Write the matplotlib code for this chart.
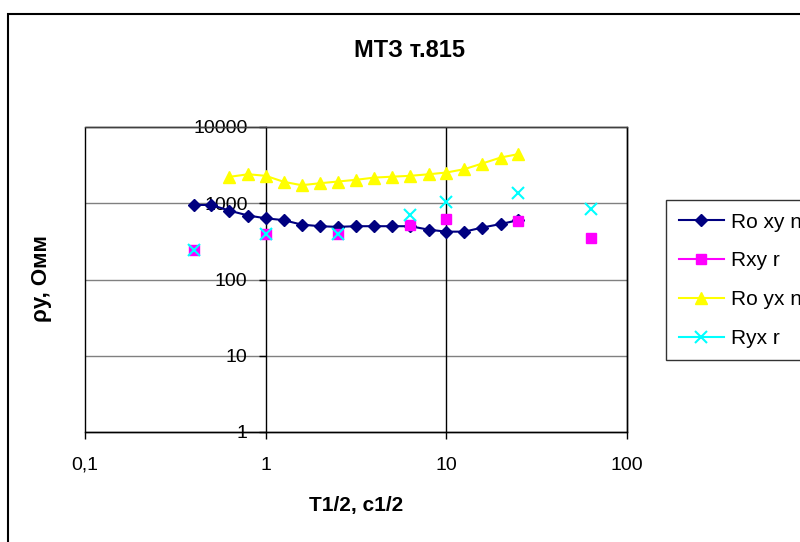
import matplotlib
matplotlib.use("Agg")
import matplotlib.pyplot as plt
from matplotlib.lines import Line2D
from matplotlib.patches import Rectangle

plt.rcParams['font.family'] = ['Liberation Sans', 'DejaVu Sans']

# data
t_xy = [0.4, 0.5, 0.63, 0.8, 1.0, 1.26, 1.58, 2.0, 2.5, 3.16, 4.0, 5.0, 6.3, 8.0, 10.0, 12.6, 15.8, 20.0, 25.0]
ro_xy = [950, 950, 800, 690, 635, 600, 525, 500, 490, 500, 500, 500, 500, 450, 424, 424, 480, 534, 600]

t_yx = [0.63, 0.8, 1.0, 1.26, 1.58, 2.0, 2.5, 3.16, 4.0, 5.0, 6.3, 8.0, 10.0, 12.6, 15.8, 20.0, 25.0]
ro_yx = [2220, 2400, 2290, 1910, 1725, 1830, 1925, 2030, 2170, 2230, 2290, 2400, 2530, 2800, 3320, 3980, 4410]

t_r = [0.4, 1.0, 2.5, 6.3, 10.0, 25.0, 63.0]
rxy_r = [241, 398, 390, 518, 616, 585, 353]
ryx_r = [241, 400, 390, 700, 1050, 1380, 833]

xticks = [0.1, 1, 10, 100]
xtick_labels = ['0,1', '1', '10', '100']
yticks = [1, 10, 100, 1000, 10000]
ytick_labels = ['1', '10', '100', '1000', '10000']

W, H = 800, 542
fig = plt.figure(figsize=(W / 100, H / 100), dpi=100)

# outer chart border (cut off at right and bottom)
fig.patches.append(Rectangle((8 / W, -0.1), 1.2, 1 - 14 / H + 0.1, transform=fig.transFigure,
                             fill=False, edgecolor='black', lw=1.5))

ax = fig.add_axes([85 / W, 1 - 432 / H, (627 - 85) / W, (432 - 127) / H])
ax.set_xscale('log')
ax.set_yscale('log')
ax.set_xlim(0.1, 100)
ax.set_ylim(1, 10000)

ax.plot(t_xy, ro_xy, color='#000080', lw=1.5, marker='D', ms=6, label='Ro xy n', zorder=3)
ax.plot(t_r, rxy_r, ls='none', color='#FF00FF', marker='s', ms=7, label='Rxy r', zorder=4)
ax.plot(t_yx, ro_yx, color='#FFFF00', lw=1.5, marker='^', ms=9, label='Ro yx n', zorder=3)
ax.plot(t_r, ryx_r, ls='none', color='#00FFFF', marker='x', ms=8, mew=1.5, label='Ryx r', zorder=5)

# grid: gray horizontal, black vertical
for y in yticks[1:-1]:
    ax.axhline(y, color='#808080', lw=1, zorder=1)
for x in [10]:
    ax.axvline(x, color='black', lw=1, zorder=1)

# y axis crosses at x = 1
for s in ['top', 'right', 'bottom']:
    ax.spines[s].set_color('black')
    ax.spines[s].set_linewidth(1)
ax.spines['top'].set_color('#404040')
ax.spines['left'].set_position(('data', 1))
ax.spines['left'].set_linewidth(1)
ax.add_patch(Rectangle((0, 0), 1, 1, transform=ax.transAxes, fill=False,
                       edgecolor='black', lw=1, zorder=2, clip_on=False))

ax.set_xticks(xticks)
ax.set_xticklabels(xtick_labels)
ax.set_yticks(yticks)
ax.set_yticklabels(ytick_labels)
ax.minorticks_off()
ax.tick_params(axis='x', direction='out', length=5, width=1, pad=13, labelsize=14)
ax.tick_params(axis='y', direction='out', length=5, width=1, pad=8, labelsize=14)

fig.text(410 / W, 1 - 51 / H, 'МТЗ т.815', ha='center', va='center',
         fontsize=17, fontweight='bold')
fig.text(356 / W, 1 - 505 / H, 'T1/2, с1/2', ha='center', va='center',
         fontsize=15, fontweight='bold')
fig.text(42 / W, 1 - 279 / H, 'ρу, Омм', ha='center', va='center', rotation=90,
         fontsize=16, fontweight='bold')

handles = [
    Line2D([], [], color='#000080', lw=1.5, marker='D', ms=6),
    Line2D([], [], color='#FF00FF', lw=1.5, marker='s', ms=7),
    Line2D([], [], color='#FFFF00', lw=1.5, marker='^', ms=9),
    Line2D([], [], color='#00FFFF', lw=1.5, marker='x', ms=8, mew=1.5),
]
leg = fig.legend(handles, ['Ro xy n', 'Rxy r', 'Ro yx n', 'Ryx r'],
                 loc='upper left', bbox_to_anchor=(666 / W, 1 - 200 / H),
                 fontsize=15, frameon=True, fancybox=False, handlelength=2.2,
                 handletextpad=0.3, labelspacing=0.95, borderpad=0.6, borderaxespad=0)
leg.get_frame().set_edgecolor('black')
leg.get_frame().set_linewidth(1)

fig.savefig('out.png', dpi=100)
